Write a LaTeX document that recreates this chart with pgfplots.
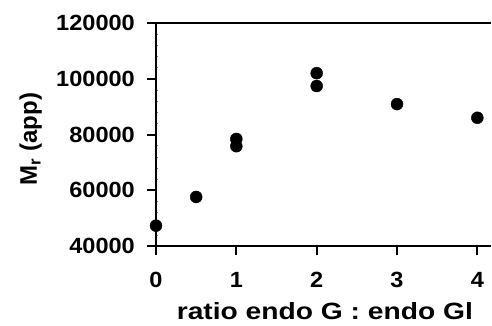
\documentclass[border=0pt]{standalone}
\usepackage{fontspec}
\setmainfont{Liberation Sans}
\newfontfamily\xlabfont[FakeStretch=1.2]{Liberation Sans}
\newfontfamily\tickfont[FakeStretch=1.07]{Liberation Sans}
\usepackage{pgfplots}
\pgfplotsset{compat=1.18}
\begin{document}
\begin{tikzpicture}
\path[use as bounding box] (-156pt,-79pt) rectangle (336pt,246pt);
\begin{axis}[
  at={(0,0)}, anchor=south west,
  scale only axis, width=335pt, height=223pt,
  xmin=0, xmax=4.17, ymin=40000, ymax=120000,
  axis x line*=bottom, axis y line*=left,
  axis line style={line width=2pt},
  scaled y ticks=false,
  xtick={0,1,2,3,4},
  xticklabels={0,1,2,3,4},
  ytick={40000,60000,80000,100000,120000},
  yticklabels={40000,60000,80000,100000,120000},
  minor y tick num=4,
  tick align=outside,
  major tick length=9pt,
  minor tick length=2pt,
  major tick style={line width=2pt, black},
  minor y tick style={xshift=2.5pt, line width=0.6pt, gray},
  yticklabel style={font=\tickfont\fontsize{22}{24}\selectfont\bfseries, inner sep=0pt, anchor=east, xshift=-12pt},
  xticklabel style={font=\tickfont\fontsize{22}{24}\selectfont\bfseries, inner sep=0pt, anchor=north, yshift=-17pt},
  xlabel={ratio endo G : endo Gl},
  ylabel={M\textsubscript{r} (app)},
  xlabel style={font=\xlabfont\fontsize{23.5}{28}\selectfont\bfseries, at={(axis description cs:0.504,0)}, anchor=base, yshift=-73pt, inner sep=0pt},
  ylabel style={font=\fontsize{24}{28}\selectfont\bfseries, at={(axis description cs:0,0.48)}, anchor=base, yshift=119pt, inner sep=0pt},
  clip=false,
]
\addplot[only marks, mark=*, mark size=6pt, black] coordinates {
  (0,47300) (0.5,57600) (1,78400) (1,75800) (2,102000) (2,97400) (3,90900) (4,86000)
};
\draw[line width=2pt] (rel axis cs:0,1) -- (rel axis cs:1,1);
\end{axis}
\end{tikzpicture}
\end{document}
